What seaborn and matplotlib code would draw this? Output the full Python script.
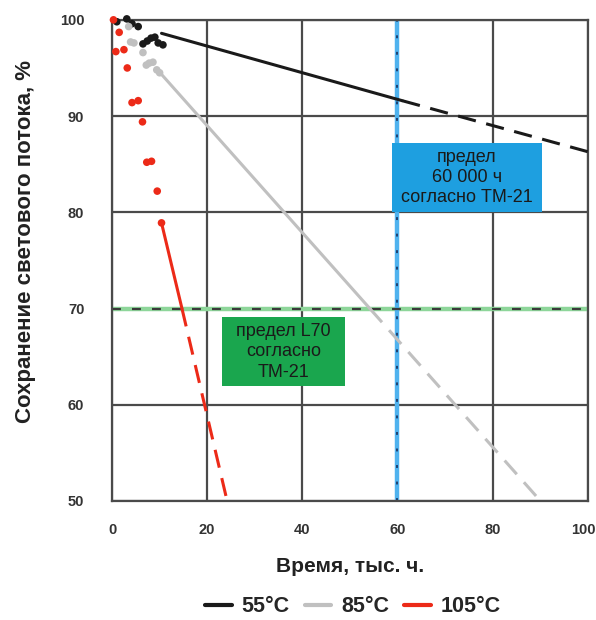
import numpy as np
import pandas as pd
import matplotlib
matplotlib.use('Agg')
import matplotlib.pyplot as plt
import matplotlib.transforms as mtransforms
import seaborn as sns
from matplotlib.patches import Rectangle
from matplotlib.lines import Line2D

# measured points (thousand hours, % lumen maintenance)
black_x = [1.0, 3.1, 4.2, 5.5, 6.5, 7.4, 8.2, 9.0, 9.7, 10.7]
black_y = [99.8, 100.1, 99.6, 99.3, 97.5, 97.8, 98.1, 98.2, 97.6, 97.4]
grey_x = [3.5, 3.9, 4.6, 6.5, 7.2, 7.8, 8.6, 9.4, 10.0]
grey_y = [99.3, 97.7, 97.6, 96.6, 95.3, 95.5, 95.6, 94.8, 94.5]
red_x = [0.3, 1.5, 0.8, 2.5, 3.2, 4.2, 5.5, 6.4, 7.3, 8.3, 9.5, 10.4]
red_y = [100.0, 98.7, 96.7, 96.9, 95.0, 91.4, 91.6, 89.4, 85.2, 85.3, 82.2, 78.9]

# TM-21 extrapolation lines: start, end of solid part, end of dashed part
black_fit_x = [10.4, 61.0, 100.0]
black_fit_y = [98.6, 91.6, 86.3]
grey_fit_x = [10.1, 54.2, 89.9]
grey_fit_y = [94.5, 70.0, 50.1]
red_fit_x = [10.4, 14.7, 24.1]
red_fit_y = [78.9, 70.0, 50.2]

labels = ['55°C', '85°C', '105°C']
colors = ['#1a1a1a', '#c0c0c0', '#ec2a18']

sns.set_style('white')
plt.rcParams['font.family'] = ['Liberation Sans', 'DejaVu Sans']

fig = plt.figure(figsize=(5.96, 6.2), dpi=100)
ax = fig.add_axes([0.188, 0.192, 0.798, 0.776])

grid_c = '#4a4a4a'
ax.set_xlim(0, 100)
ax.set_ylim(50, 100)
ax.set_xticks(range(0, 101, 20))
ax.set_yticks(range(50, 101, 10))
ax.grid(True, color=grid_c, lw=1.6)
for s in ax.spines.values():
    s.set_color(grid_c)
    s.set_linewidth(1.6)
ax.tick_params(direction='out', length=6, width=1.6, color=grid_c,
               labelsize=10.5, labelcolor='#333333')
ax.tick_params(axis='y', pad=14)
ax.tick_params(axis='x', pad=10)
for lab in ax.get_xticklabels() + ax.get_yticklabels():
    lab.set_fontweight('bold')
# keep the last x label inside the figure
last = ax.get_xticklabels()[-1]
last.set_transform(last.get_transform() +
                   mtransforms.ScaledTranslation(-4 / 100, 0, fig.dpi_scale_trans))

# limit lines
ax.axhline(70, color='#8ed69a', lw=3.2, zorder=2)
ax.axhline(70, color='#3a3a3a', lw=1.6, ls=(0, (4, 5)), zorder=2.1)
ax.axvline(60, color='#4fb2ee', lw=3.2, zorder=2)
ax.axvline(60, color='#1f3f6f', lw=1.4, ls=(0, (1.5, 7)), zorder=2.1)

# fitted lines
fits = [(black_fit_x, black_fit_y), (grey_fit_x, grey_fit_y), (red_fit_x, red_fit_y)]
for (fx, fy), c in zip(fits, colors):
    solid = pd.DataFrame({'x': fx[:2], 'y': fy[:2]})
    dashed = pd.DataFrame({'x': fx[1:], 'y': fy[1:]})
    sns.lineplot(data=solid, x='x', y='y', color=c, lw=2.2, ax=ax, zorder=3)
    sns.lineplot(data=dashed, x='x', y='y', color=c, lw=2.2, ax=ax, zorder=3,
                 linestyle=(0, (6, 3.5)))

# measurement points
pts = [(black_x, black_y), (grey_x, grey_y), (red_x, red_y)]
for (px, py), c in zip(pts, colors):
    sns.scatterplot(x=px, y=py, color=c, s=30, edgecolor='none', ax=ax,
                    zorder=4, clip_on=False)

# annotation boxes
ax.add_patch(Rectangle((58.8, 80.0), 31.5, 7.2, facecolor='#1e9fe0',
                       edgecolor='none', zorder=5))
ax.text(74.55, 83.6, 'предел\n60 000 ч\nсогласно ТМ-21', ha='center', va='center',
        fontsize=13, color='#1a1a1a', linespacing=1.25, zorder=6)
ax.add_patch(Rectangle((23.1, 61.9), 25.9, 7.2, facecolor='#1aa64e',
                       edgecolor='none', zorder=5))
ax.text(36.05, 65.5, 'предел L70\nсогласно\nТМ-21', ha='center', va='center',
        fontsize=13, color='#1a1a1a', linespacing=1.25, zorder=6)

ax.set_xlabel('Время, тыс. ч.', fontsize=15, fontweight='bold', color='#222222',
              labelpad=14)
ax.set_ylabel('Сохранение светового потока, %', fontsize=16, fontweight='bold',
              color='#222222')
ax.yaxis.set_label_coords(-0.16, 0.54)

handles = [Line2D([], [], color=c, lw=3) for c in colors]
fig.legend(handles, labels, loc='center', bbox_to_anchor=(0.592, 0.021), ncol=3,
           frameon=False, handlelength=1.25, handletextpad=0.45,
           columnspacing=0.7, prop={'weight': 'bold', 'size': 15.5})

fig.savefig('out.png', dpi=100)
